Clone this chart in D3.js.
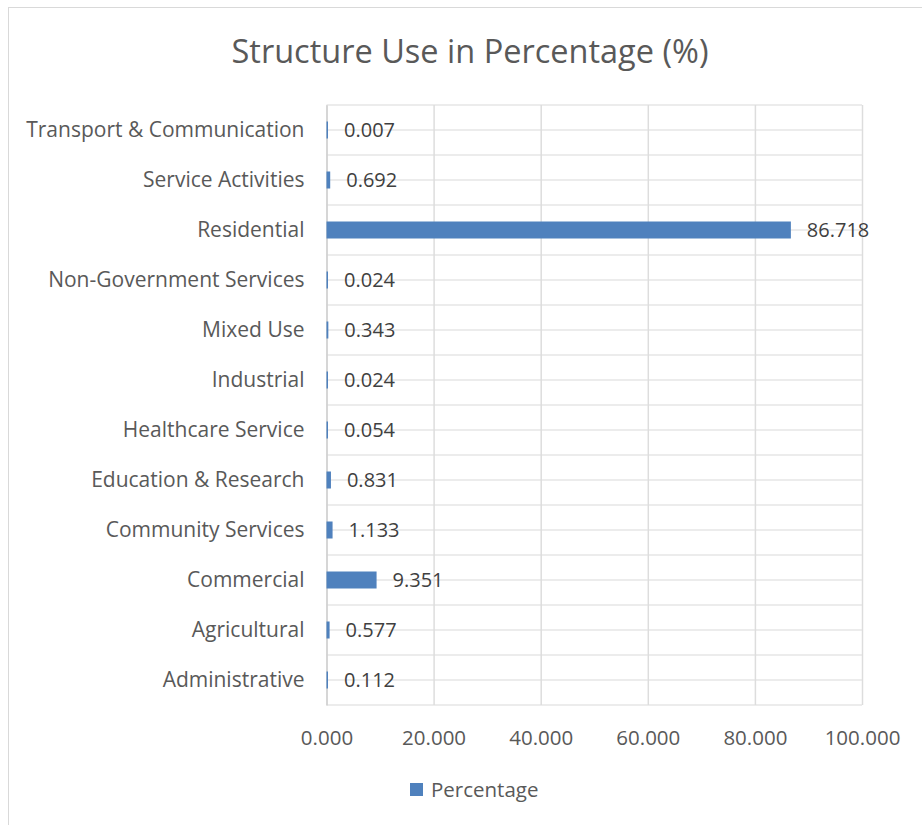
<!DOCTYPE html>
<html><head><meta charset="utf-8">
<script src="https://cdn.jsdelivr.net/npm/d3@7"></script>
<style>body{margin:0;background:#fff}svg{display:block}text{font-family:"Open Sans",Lato,sans-serif}</style>
</head><body>
<script>
const categories = ["Transport & Communication","Service Activities","Residential","Non-Government Services","Mixed Use","Industrial","Healthcare Service","Education & Research","Community Services","Commercial","Agricultural","Administrative"];
const values = [0.007,0.692,86.718,0.024,0.343,0.024,0.054,0.831,1.133,9.351,0.577,0.112];
const labels = ["0.007","0.692","86.718","0.024","0.343","0.024","0.054","0.831","1.133","9.351","0.577","0.112"];
const xTicks = [0,20,40,60,80,100];
const seriesName = "Percentage";

(function(){
const W=922,H=825;
const svg=d3.select("body").append("svg").attr("width",W).attr("height",H);
svg.append("rect").attr("x",8.5).attr("y",7.5).attr("width",W).attr("height",H).attr("fill","#fff").attr("stroke","#d9d9d9");

const pl=326.5,pr=862,pt=105,pb=705;
const x=d3.scaleLinear().domain([0,100]).range([pl,pr]);
const y=d3.scaleBand().domain(categories).range([pt,pb]).paddingInner(0.66).paddingOuter(0.33);

svg.append("text").attr("x",470).attr("y",63).attr("text-anchor","middle").attr("font-size",32.5).attr("fill","#595959").text("Structure Use in Percentage (%)");

const g=svg.append("g");
const step=(pb-pt)/categories.length/2;
d3.range(0,categories.length*2+1).forEach(i=>{
  g.append("line").attr("x1",pl).attr("x2",pr).attr("y1",pt+i*step).attr("y2",pt+i*step).attr("stroke","#e6e6e6").attr("stroke-width",1.5);
});
const xa=g.append("g").attr("transform",`translate(0,${pb})`).call(d3.axisBottom(x).tickValues(xTicks).tickSize(-(pb-pt)).tickFormat(d3.format(".3f")));
xa.select(".domain").remove();
xa.selectAll(".tick line").attr("stroke","#dddddd").attr("stroke-width",1.5);
xa.selectAll(".tick text").attr("font-size",20.5).attr("fill","#595959").attr("dy",0).attr("y",40);

const ya=g.append("g").attr("transform",`translate(${pl},0)`).call(d3.axisLeft(y).tickSize(0).tickPadding(22));
ya.select(".domain").attr("stroke","#d0d0d0").attr("stroke-width",1.5);
ya.selectAll(".tick text").attr("font-size",21).attr("fill","#595959");

g.selectAll(".bar").data(values).enter().append("rect").attr("class","bar")
 .attr("x",x(0)).attr("y",(d,i)=>y(categories[i])).attr("height",y.bandwidth())
 .attr("width",d=>Math.max(1.5,x(d)-x(0))).attr("fill","#4f81bd");

g.selectAll(".lbl").data(values).enter().append("text").attr("class","lbl")
 .attr("x",d=>Math.max(x(d),x(0)+1.5)+16).attr("y",(d,i)=>y(categories[i])+y.bandwidth()/2).attr("dy","0.35em")
 .attr("font-size",20).attr("fill","#404040").text((d,i)=>labels[i]);

const lg=svg.append("g");
lg.append("rect").attr("x",410).attr("y",783).attr("width",13).attr("height",13).attr("fill","#4f81bd");
lg.append("text").attr("x",431).attr("y",790).attr("dy","0.35em").attr("font-size",20.5).attr("fill","#595959").text(seriesName);
})();
</script>
</body></html>
